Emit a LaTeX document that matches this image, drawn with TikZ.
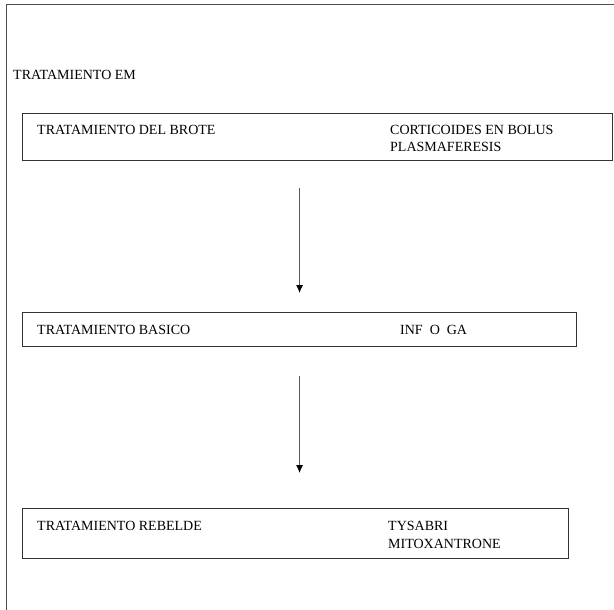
\documentclass[tikz,border=0pt]{standalone}
\usepackage{fontspec}
\setmainfont{Liberation Serif}
\usetikzlibrary{arrows.meta}
\tikzset{
  box/.style={draw=black!80, line width=1.1pt, anchor=north west, inner sep=0pt},
  txt/.style={anchor=base west, inner sep=0pt, font=\fontsize{14}{16}\selectfont},
  flow/.style={draw=black!65, line width=0.9pt, -{Latex[length=8pt,width=7pt,color=black]}}
}
\begin{document}
\begin{tikzpicture}[x=1pt,y=-1pt]
  \useasboundingbox (0,0) rectangle (614,610);
  \draw[line width=1pt, black!70] (6,610) -- (6,5) -- (614,5);

  \node[txt] (em) at (13,80) {TRATAMIENTO EM};

  \node[box, minimum width=590pt, minimum height=47pt] (brote) at (22,113) {};
  \node[txt] (brotel) at (37,135) {TRATAMIENTO DEL BROTE};
  \node[txt] (broter) at (390,135) {CORTICOIDES EN BOLUS};
  \node[txt] (broter2) at (390,152) {PLASMAFERESIS};

  \node[box, minimum width=554pt, minimum height=34pt] (basico) at (22,312) {};
  \node[txt] (basicol) at (37,334) {TRATAMIENTO BASICO};
  \node[txt] (basicor) at (400,334) {INF\ \ O\ \ GA};

  \node[box, minimum width=546pt, minimum height=50pt] (rebelde) at (22,508) {};
  \node[txt] (rebeldel) at (37,530) {TRATAMIENTO REBELDE};
  \node[txt] (rebelder) at (388,530) {TYSABRI};
  \node[txt] (rebelder2) at (388,548) {MITOXANTRONE};

  \draw[flow] ([yshift=-27pt]brote.south -| basico.north) -- ([yshift=19pt]basico.north);
  \draw[flow] ([yshift=-29pt]basico.south) -- ([yshift=35pt]basico.south |- rebelde.north);
\end{tikzpicture}
\end{document}
